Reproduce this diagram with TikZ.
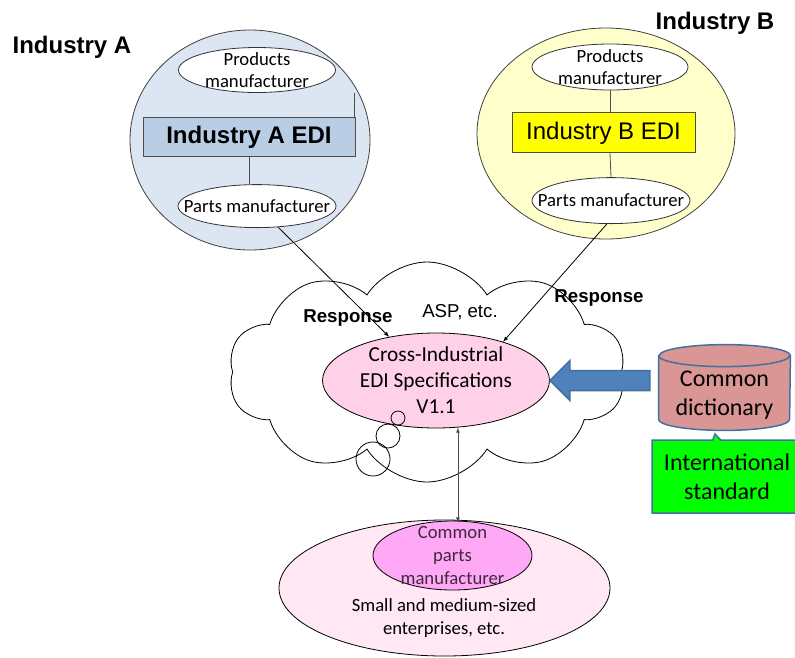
\documentclass[tikz,border=0pt]{standalone}
\usepackage{fontspec}
\setmainfont{Carlito}
\newfontfamily\arial{Liberation Sans}
\usetikzlibrary{arrows,shapes,positioning}
\usetikzlibrary{calc}

\definecolor{skyA}{HTML}{DCE6F2}
\definecolor{ediblue}{HTML}{B9CDE5}
\definecolor{creamB}{HTML}{FFFFCC}
\definecolor{ediyellow}{HTML}{FFFF00}
\definecolor{specpink}{HTML}{FFD1E8}
\definecolor{smepink}{HTML}{FFE8F3}
\definecolor{partpink}{HTML}{FFA8F5}
\definecolor{arrowblue}{HTML}{4F81BD}
\definecolor{edgeblue}{HTML}{41719C}
\definecolor{dictred}{HTML}{D99694}
\definecolor{intlgreen}{HTML}{00FF00}
\definecolor{purpletext}{HTML}{3F2A3C}

\newcommand{\headfont}{\arial\bfseries\fontsize{24}{28}\selectfont}
\newcommand{\edifont}{\arial\fontsize{24}{28}\selectfont}
\newcommand{\respfont}{\arial\bfseries\fontsize{18.67}{22}\selectfont}
\newcommand{\aspfont}{\arial\fontsize{18.67}{22}\selectfont}
\newcommand{\bodyfont}{\fontsize{18.67}{22.8}\selectfont}
\newcommand{\specfont}{\fontsize{21.33}{26}\selectfont}
\newcommand{\dictfont}{\fontsize{24}{29.5}\selectfont}

\tikzstyle{industry} = [
  ellipse, draw=black!75, inner sep=0pt
]
\tikzstyle{maker} = [
  ellipse, draw=black!80, fill=white, inner sep=0pt, minimum width=157,
  minimum height=45
]
\tikzstyle{edibox} = [
  rectangle, draw=black!70, inner sep=0pt, minimum height=40
]
\tikzstyle{link} = [draw=black!70]
\tikzstyle{resp} = [-latex, black]
\tikzstyle{dictline} = [draw=edgeblue, line width=1.5pt]

\begin{document}
\begin{tikzpicture}[x=1pt, y=-1pt, line width=0.8pt]
    \useasboundingbox (0,0) rectangle (795,657);

    % Industry A
    \node[font=\headfont] (hdrA) at (72,47) {Industry A};
    \node[industry, fill=skyA, minimum width=240, minimum height=220] (outerA) at (250,140) {};
    \node[maker, label={[font=\bodyfont, align=center]center:Products\\manufacturer}] (prodA) at (257,70) {};
    \node[edibox, fill=ediblue, minimum width=212, minimum height=39, font=\headfont,
      below=24.5pt of prodA, xshift=-8pt] (ediA) {Industry A EDI};
    \node[maker, minimum width=158, minimum height=43,
      label={[font=\bodyfont]center:Parts manufacturer}, below=27pt of ediA, xshift=8pt] (partsA) {};
    \coordinate[above=24pt of ediA.north east, xshift=-1.5pt] (stubA);

    \draw[link] (stubA |- ediA.north) -- (stubA);
    \draw[link] (ediA.south) -- (ediA.south |- partsA.north);

    % Industry B
    \node[font=\headfont] (hdrB) at (715,23) {Industry B};
    \node[industry, fill=creamB, minimum width=258, minimum height=211] (outerB) at (606,133.5) {};
    \node[maker, minimum width=156, minimum height=46,
      label={[font=\bodyfont, align=center]center:Products\\manufacturer}] (prodB) at (610,67) {};
    \node[edibox, fill=ediyellow, minimum width=183, font=\edifont,
      below=22pt of prodB, xshift=-6.5pt] (ediB) {Industry B EDI};
    \node[maker, minimum width=158, minimum height=46,
      label={[font=\bodyfont]center:Parts manufacturer}, below=24pt of ediB, xshift=7.5pt] (partsB) {};

    \draw[link] (prodB.south) -- (prodB.south |- ediB.north);
    \draw[link] (prodB.south |- ediB.south) -- (partsB.north);

    % ASP cloud
    \node[cloud, draw, fill=white, cloud puffs=10, cloud puff arc=115, aspect=1.8,
      minimum width=397, minimum height=220, inner sep=0pt] (asp) at (427,372) {};
    \node[font=\aspfont] (asptxt) at (460,312) {ASP, etc.};
    \node[ellipse, draw, fill=specpink, inner sep=0pt, minimum width=227, minimum height=95,
      label={[font=\specfont, align=center]center:Cross-Industrial\\EDI Specifications\\V1.1}] (cross) at (436,380.5) {};
    \draw (398,418) circle (7);
    \draw (388,436) circle (12);
    \draw (373,459) circle (17);

    \node[font=\respfont] (respA) at (348,318) {Response};
    \node[font=\respfont] (respB) at (599,298) {Response};
    \draw[resp] (partsA.-45) -- (cross.137);
    \draw[resp] (partsB.-100) -- (cross.30);

    % dictionary
    \node[rectangle, inner sep=0pt, minimum width=131, minimum height=63] (dict) at (724.5,387.5) {};
    \draw[dictline, fill=dictred] (dict.north west) -- (dict.south west)
      arc[start angle=180, end angle=0, x radius=65.5, y radius=11] -- (dict.north east)
      arc[start angle=0, end angle=-180, x radius=65.5, y radius=11] -- cycle;
    \draw[dictline] (dict.north west) arc[start angle=180, end angle=0, x radius=65.5, y radius=11];
    \node[font=\dictfont, align=center] (dicttxt) at ([yshift=-7.5pt]dict.center) {Common\\dictionary};
    \draw[dictline, fill=arrowblue]
      (cross.east) -- ++(20,-20) -- ++(0,10) -- ++(80,0) -- ++(0,20)
      -- ++(-80,0) -- ++(0,10) -- cycle;
    \node[rectangle callout, draw=edgeblue, fill=intlgreen, line width=1.5pt,
      minimum width=150, minimum height=73, callout absolute pointer={(715,434)},
      callout pointer width=8pt, font=\dictfont, align=center] (intl) at (727,476.5)
      {International\\standard};

    % small and medium-sized enterprises
    \node[ellipse, draw, fill=smepink, minimum width=331, minimum height=136] (sme) at (444.5,588) {};
    \node[ellipse, draw, fill=partpink, inner sep=0pt, minimum width=159, minimum height=69,
      label={[font=\bodyfont, text=purpletext, align=center, text depth=0pt]center:Common\\parts\\manufacturer}] (common) at (452.5,555.5) {};
    \node[font=\bodyfont, align=center] (smetxt) at (444,618) {Small and medium-sized\\enterprises, etc.};

    \draw[latex-latex, draw=black!70] (cross.-65) -- ([yshift=-3pt]cross.-65 |- sme.north);
\end{tikzpicture}
\end{document}
